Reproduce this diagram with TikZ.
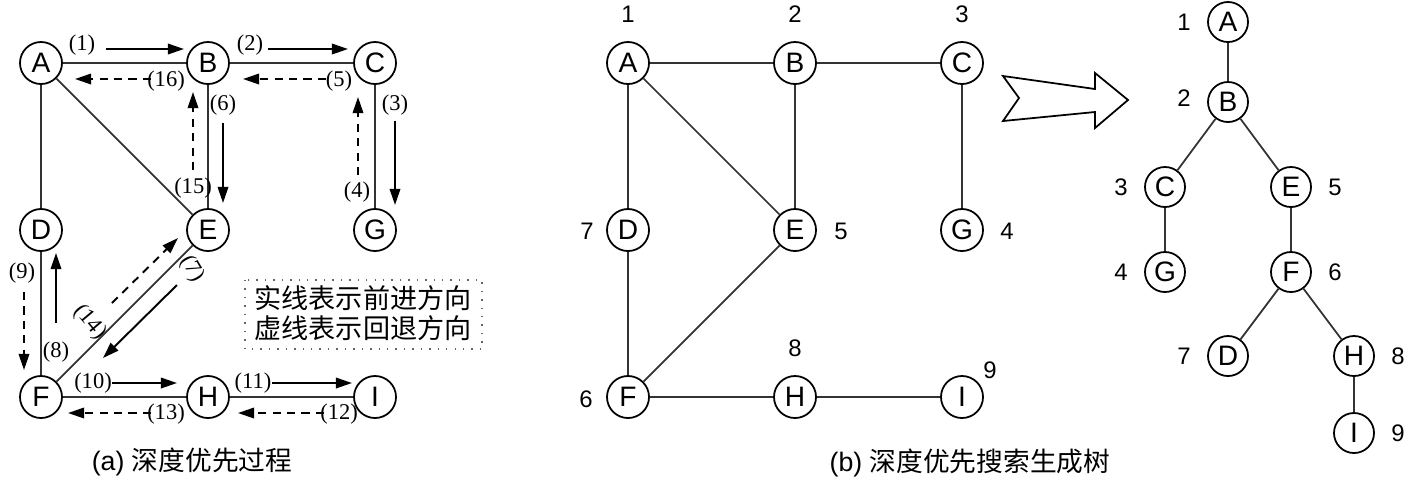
\documentclass[tikz,border=0pt]{standalone}
\usepackage{fontspec}
\setmainfont{Liberation Serif}
\setsansfont{Liberation Sans}
\newfontfamily\cjk{Noto Sans CJK SC}
\usetikzlibrary{arrows.meta,positioning}

\tikzset{
  vtx/.style={circle, draw, line width=0.5pt, inner sep=0pt, minimum size=0.42cm,
              font=\sffamily\fontsize{8}{8}\selectfont},
  tvtx/.style={vtx, minimum size=0.40cm},
  edge/.style={line width=0.5pt, black!80},
  fwd/.style={line width=0.55pt, -{Triangle[length=4.6pt,width=3pt]}},
  bwd/.style={fwd, dash pattern=on 2.3pt off 1.8pt},
  stepnum/.style={inner sep=0pt, font=\fontsize{6.4}{6.4}\selectfont},
  ordnum/.style={inner sep=0pt, font=\sffamily\fontsize{6.8}{6.8}\selectfont},
  capt/.style={inner sep=0pt, font=\sffamily\fontsize{7.6}{7.6}\selectfont},
}

\begin{document}
\begin{tikzpicture}[x=0.01cm, y=-0.01cm] % 以像素为单位，y 轴向下
  \useasboundingbox (0,0) rectangle (1412,481);

  % 1. (a) 深度优先过程：顶点
  \node[vtx] (aA) at (41,63)   {A};
  \node[vtx] (aB) at (208,63)  {B};
  \node[vtx] (aC) at (375,63)  {C};
  \node[vtx] (aD) at (41,230)  {D};
  \node[vtx] (aE) at (208,230) {E};
  \node[vtx] (aG) at (375,230) {G};
  \node[vtx] (aF) at (41,397)  {F};
  \node[vtx] (aH) at (208,397) {H};
  \node[vtx] (aI) at (375,397) {I};

  % 边
  \draw[edge] (aA) -- (aB) -- (aC);
  \draw[edge] (aA) -- (aD) -- (aF) -- (aH) -- (aI);
  \draw[edge] (aA) -- (aE) -- (aF);
  \draw[edge] (aB) -- (aE);
  \draw[edge] (aC) -- (aG);

  % 2. 前进 / 回退箭头的端点
  \coordinate (s1a) at (106,49);  \coordinate (s1b) at (184,49);
  \coordinate (s2a) at (268,49);  \coordinate (s2b) at (348,49);
  \coordinate (s3a) at (395,121); \coordinate (s3b) at (395,205);
  \coordinate (s4a) at (358,175); \coordinate (s4b) at (358,97);
  \coordinate (s5a) at (326,79);  \coordinate (s5b) at (243,79);
  \coordinate (s6a) at (223,123); \coordinate (s6b) at (223,203);
  \coordinate (s7a) at (177,285); \coordinate (s7b) at (103,358);
  \coordinate (s8a) at (56,323);  \coordinate (s8b) at (56,253);
  \coordinate (s9a) at (24,292);  \coordinate (s9b) at (24,370);
  \coordinate (s10a) at (112,383); \coordinate (s10b) at (177,383);
  \coordinate (s11a) at (272,383); \coordinate (s11b) at (352,383);
  \coordinate (s12a) at (324,413); \coordinate (s12b) at (238,413);
  \coordinate (s13a) at (151,413); \coordinate (s13b) at (68,413);
  \coordinate (s14a) at (112,303); \coordinate (s14b) at (178,238);
  \coordinate (s15a) at (193,170); \coordinate (s15b) at (193,92);
  \coordinate (s16a) at (151,79);  \coordinate (s16b) at (75,79);

  % 实线前进
  \foreach \k in {1,2,3,6,7,8,10,11}
    \draw[fwd] (s\k a) -- (s\k b);
  % 虚线回退
  \foreach \k in {4,5,9,12,13,14,15,16}
    \draw[bwd] (s\k a) -- (s\k b);

  % 步骤编号
  \node[stepnum] (n1)  at (82,45)   {(1)};
  \node[stepnum] (n2)  at (250,45)  {(2)};
  \node[stepnum] (n3)  at (395,105) {(3)};
  \node[stepnum] (n4)  at (357,192) {(4)};
  \node[stepnum] (n5)  at (339,81)  {(5)};
  \node[stepnum] (n6)  at (223,105) {(6)};
  \node[stepnum, rotate=-60] (n7) at (192,269) {(7)};
  \node[stepnum] (n8)  at (56,352)  {(8)};
  \node[stepnum] (n9)  at (22,273)  {(9)};
  \node[stepnum] (n10) at (93,383)  {(10)};
  \node[stepnum] (n11) at (253,383) {(11)};
  \node[stepnum] (n12) at (339,414) {(12)};
  \node[stepnum] (n13) at (166,414) {(13)};
  \node[stepnum, rotate=-50] (n14) at (90,322) {(14)};
  \node[stepnum] (n15) at (193,188) {(15)};
  \node[stepnum] (n16) at (166,81)  {(16)};

  % 说明框
  \draw[dotted, black!60] (245,280) rectangle (482,349);
  \node[inner sep=0pt, font=\cjk\fontsize{7.7}{7.7}\selectfont] (legA) at (363,298) {实线表示前进方向};
  \node[inner sep=0pt, font=\cjk\fontsize{7.7}{7.7}\selectfont] (legB) at (363,328) {虚线表示回退方向};

  \node[capt] (captA) at (192,462) {(a) {\cjk 深度优先过程}};

  % 3. (b) 原图及访问次序
  \node[vtx] (bA) at (628,63)  {A};
  \node[vtx] (bB) at (795,63)  {B};
  \node[vtx] (bC) at (962,63)  {C};
  \node[vtx] (bD) at (628,230) {D};
  \node[vtx] (bE) at (795,230) {E};
  \node[vtx] (bG) at (962,230) {G};
  \node[vtx] (bF) at (628,397) {F};
  \node[vtx] (bH) at (795,397) {H};
  \node[vtx] (bI) at (962,397) {I};

  \draw[edge] (bA) -- (bB) -- (bC);
  \draw[edge] (bA) -- (bD) -- (bF) -- (bH) -- (bI);
  \draw[edge] (bA) -- (bE) -- (bF);
  \draw[edge] (bB) -- (bE);
  \draw[edge] (bC) -- (bG);

  \node[ordnum] (oA) at (628,14)  {1};
  \node[ordnum] (oB) at (795,14)  {2};
  \node[ordnum] (oC) at (962,14)  {3};
  \node[ordnum] (oG) at (1007,231) {4};
  \node[ordnum] (oE) at (841,231) {5};
  \node[ordnum] (oF) at (586,399) {6};
  \node[ordnum] (oD) at (587,231) {7};
  \node[ordnum] (oH) at (795,348) {8};
  \node[ordnum] (oI) at (990,370) {9};

  % 4. 空心大箭头
  \draw[line width=0.5pt] (1003,76) -- (1095,89) -- (1095,73) -- (1128,100)
        -- (1095,128) -- (1095,112) -- (1003,121) -- (1019,98) -- cycle;

  % 5. 深度优先生成树
  \node[tvtx] (tA) at (1228,22)  {A};
  \node[tvtx] (tB) at (1228,102) {B};
  \node[tvtx] (tC) at (1165,187) {C};
  \node[tvtx] (tE) at (1291,187) {E};
  \node[tvtx] (tG) at (1165,272) {G};
  \node[tvtx] (tF) at (1291,272) {F};
  \node[tvtx] (tD) at (1228,356) {D};
  \node[tvtx] (tH) at (1354,356) {H};
  \node[tvtx] (tI) at (1354,433) {I};

  \draw[edge] (tA) -- (tB);
  \draw[edge] (tB) -- (tC) -- (tG);
  \draw[edge] (tB) -- (tE) -- (tF);
  \draw[edge] (tF) -- (tD);
  \draw[edge] (tF) -- (tH) -- (tI);

  \node[ordnum, left=4.5pt of tA] (uA) {1};
  \node[ordnum, left=4.5pt of tB, yshift=1pt] (uB) {2};
  \node[ordnum, left=4.5pt of tC] (uC) {3};
  \node[ordnum, left=4.5pt of tG] (uG) {4};
  \node[ordnum, right=4.5pt of tE] (uE) {5};
  \node[ordnum, right=4.5pt of tF] (uF) {6};
  \node[ordnum, left=4.5pt of tD] (uD) {7};
  \node[ordnum, right=4.5pt of tH] (uH) {8};
  \node[ordnum, right=4.5pt of tI] (uI) {9};

  \node[capt] (captB) at (970,463) {(b) {\cjk 深度优先搜索生成树}};

\end{tikzpicture}
\end{document}
